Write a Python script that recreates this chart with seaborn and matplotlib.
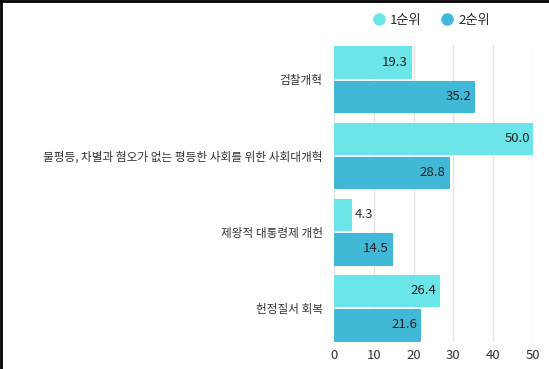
import pandas as pd
import matplotlib.pyplot as plt
import seaborn as sns
from matplotlib.lines import Line2D

categories = ["검찰개혁", "불평등, 차별과 혐오가 없는 평등한 사회를 위한 사회대개혁",
              "제왕적 대통령제 개헌", "헌정질서 회복"]
series = ["1순위", "2순위"]
rank1 = [19.3, 50.0, 4.3, 26.4]
rank2 = [35.2, 28.8, 14.5, 21.6]
colors = ["#6be5e8", "#40b8d6"]
x_ticks = [0, 10, 20, 30, 40, 50]

df = pd.DataFrame({
    "category": categories * 2,
    "series": [series[0]] * len(categories) + [series[1]] * len(categories),
    "value": rank1 + rank2,
})

sns.set_theme(style="white")
plt.rcParams['font.family'] = ['Noto Sans CJK KR', 'DejaVu Sans']

fig = plt.figure(figsize=(5.49, 3.69), dpi=100)
ax = fig.add_axes([0.608, 0.073, 0.363, 0.805])

sns.barplot(data=df, y="category", x="value", hue="series", orient="h",
            palette=colors, saturation=1, width=0.9, gap=0.08, ax=ax,
            legend=False, linewidth=0.8)

for bars in ax.containers:
    for bar in bars:
        bar.set_edgecolor(bar.get_facecolor())
        w = bar.get_width()
        yc = bar.get_y() + bar.get_height() / 2
        if w < 8:
            ax.text(w + 0.9, yc, f"{w:.1f}", ha="left", va="center",
                    fontsize=9.5, color="#333333")
        else:
            ax.text(w - 0.7, yc, f"{w:.1f}", ha="right", va="center",
                    fontsize=9.5, color="#222222")

ax.set_xlim(0, 50)
ax.set_ylim(3.45, -0.45)
ax.set_xticks(x_ticks)
ax.set_xlabel("")
ax.set_ylabel("")
ax.tick_params(axis="x", length=0, pad=5, labelsize=9.5, colors="#333333")
ax.tick_params(axis="y", length=0, pad=8, labelsize=8.4, colors="#333333")
ax.grid(axis="x", color="#e3e3e3", linewidth=1)
ax.set_axisbelow(True)
for s in ax.spines.values():
    s.set_visible(False)

handles = [Line2D([], [], marker="o", linestyle="", markersize=8,
                  markerfacecolor=c, markeredgecolor=c) for c in colors]
fig.legend(handles, series, loc="center", bbox_to_anchor=(0.785, 0.945),
           ncol=2, frameon=False, fontsize=9.5, handletextpad=0.3,
           columnspacing=1.5, handlelength=1.0)

# frame on top and left edges
fig.add_artist(Line2D([0, 1], [0.997, 0.997], color="black", linewidth=2,
                      transform=fig.transFigure))
fig.add_artist(Line2D([0.002, 0.002], [0, 1], color="black", linewidth=2,
                      transform=fig.transFigure))

fig.savefig("out.png", dpi=100)
